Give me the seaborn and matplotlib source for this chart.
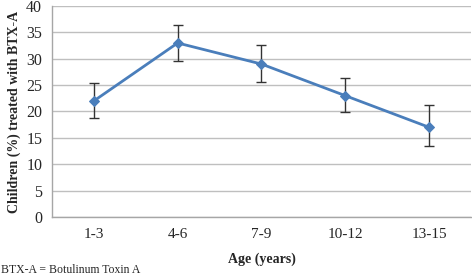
import numpy as np
import pandas as pd
import seaborn as sns
import matplotlib.pyplot as plt

ages = ['1-3', '4-6', '7-9', '10-12', '13-15']
pct = [22, 33, 29, 23, 17]
err_hi = [25.5, 36.5, 32.6, 26.4, 21.2]
err_lo = [18.8, 29.6, 25.6, 19.9, 13.4]

sns.set_style('white')
plt.rcParams['font.family'] = ['Liberation Serif', 'DejaVu Serif']

df = pd.DataFrame({'age': ages, 'pct': pct})
fig = plt.figure(figsize=(4.72, 2.77), dpi=100)
ax = fig.add_axes([0.11, 0.217, 0.888, 0.761])

x = np.arange(len(ages))
yerr = [np.array(pct) - np.array(err_lo), np.array(err_hi) - np.array(pct)]
ax.errorbar(x, pct, yerr=yerr, fmt='none', ecolor='#333333', elinewidth=1, capsize=3.5, capthick=1, zorder=2)
sns.lineplot(data=df, x='age', y='pct', sort=False, color='#4a7ebb', linewidth=2,
             marker='D', markersize=5, markeredgecolor='#4a7ebb', ax=ax, zorder=3)

ax.set_xlim(-0.5, 4.5)
ax.set_ylim(0, 40)
ax.set_yticks(range(0, 41, 5))
ax.yaxis.grid(True, color='#bfbfbf', linewidth=1)
ax.set_axisbelow(True)
for s in ['top', 'right']:
    ax.spines[s].set_visible(False)
for s in ['left', 'bottom']:
    ax.spines[s].set_color('#a6a6a6')
    ax.spines[s].set_linewidth(1)

ax.set_xticks(x)
ax.set_xticklabels(ages)
ax.set_xticks(np.arange(-0.5, 5, 1), minor=True)
ax.tick_params(axis='x', which='major', length=0, labelsize=11, pad=8)
ax.tick_params(axis='x', which='minor', length=4, color='#a6a6a6', direction='out')
ax.tick_params(axis='y', length=4, color='#a6a6a6', direction='out', labelsize=11.5, pad=3)

ax.set_xlabel('Age (years)', fontsize=10, fontweight='bold', labelpad=8)
ax.set_ylabel('Children (%) treated with BTX-A', fontsize=10, fontweight='bold', labelpad=4)

fig.text(0.002, 0.003, 'BTX-A = Botulinum Toxin A', fontsize=8.5, ha='left', va='bottom')

fig.savefig('out.png', dpi=100)
